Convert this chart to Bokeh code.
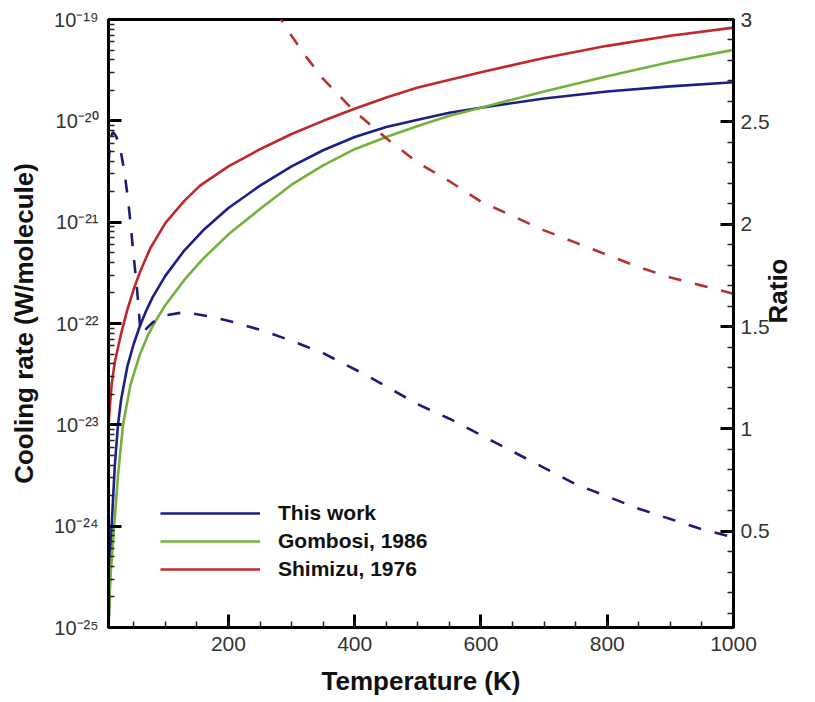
import math
from bokeh.plotting import figure
from bokeh.models import (Range1d, LinearAxis, LinearScale, FixedTicker, Legend, LegendItem,
                          CustomJSTickFormatter)
from bokeh.embed import file_html
from bokeh.resources import INLINE

# ---- data ----
# Cooling rate, log10(W/molecule)
t_this = [10, 12, 15, 20, 25, 30, 40, 50, 60, 70, 80, 100, 130, 160, 200, 250, 300, 350, 400,
          450, 500, 550, 600, 700, 800, 900, 1000]
lg_this = [-25.0, -24.6, -24.0, -23.4, -23.0, -22.75, -22.42, -22.2, -22.02, -21.87, -21.74,
           -21.53, -21.28, -21.08, -20.86, -20.64, -20.45, -20.29, -20.16, -20.06, -19.99,
           -19.92, -19.87, -19.78, -19.71, -19.66, -19.62]

t_gomb = [10, 13, 19, 25, 33, 45, 60, 72, 85, 100, 130, 160, 200, 250, 300, 350, 400, 450,
          500, 550, 600, 700, 800, 900, 1000]
lg_gomb = [-25.0, -24.5, -24.0, -23.5, -23.0, -22.6, -22.3, -22.12, -21.97, -21.82, -21.57,
           -21.36, -21.12, -20.87, -20.63, -20.44, -20.28, -20.16, -20.05, -19.95, -19.87,
           -19.71, -19.56, -19.42, -19.30]

t_shim = [10, 15, 20, 25, 30, 40, 50, 60, 76, 100, 130, 155, 200, 250, 300, 350, 400, 450,
          500, 600, 700, 800, 900, 1000]
lg_shim = [-23.0, -22.6, -22.38, -22.24, -22.1, -21.86, -21.66, -21.49, -21.26, -21.01, -20.79,
           -20.64, -20.45, -20.28, -20.13, -20.0, -19.88, -19.77, -19.67, -19.52, -19.38,
           -19.26, -19.16, -19.08]

# Ratio curves (right axis)
t_ratio_blue = [10, 13, 17, 22, 28, 35, 41, 45, 49, 55, 60, 64, 70, 80, 100, 130, 170, 210,
                260, 300, 350, 420, 500, 550, 600, 650, 700, 750, 800, 850, 900, 950, 1000]
ratio_blue = [2.30, 2.42, 2.45, 2.43, 2.38, 2.26, 2.12, 2.0, 1.87, 1.69, 1.50, 1.46, 1.49, 1.52,
              1.555, 1.57, 1.55, 1.52, 1.475, 1.43, 1.37, 1.26, 1.12, 1.05, 0.97, 0.89, 0.81,
              0.73, 0.67, 0.61, 0.56, 0.51, 0.47]

t_ratio_red = [275, 300, 325, 350, 400, 450, 500, 550, 600, 650, 700, 750, 800, 850, 900, 950, 1000]
ratio_red = [3.04, 2.92, 2.81, 2.71, 2.55, 2.42, 2.30, 2.21, 2.11, 2.04, 1.97, 1.91, 1.85, 1.79,
             1.74, 1.70, 1.66]

x_ticks = [200, 400, 600, 800, 1000]
y_exponents = [-25, -24, -23, -22, -21, -20, -19]
ratio_ticks = [0.5, 1, 1.5, 2, 2.5, 3]
legend_labels = ["This work", "Gombosi, 1986", "Shimizu, 1976"]

BLUE = "#1b1f86"
GREEN = "#72b23c"
RED = "#c0282e"
BLUE_D = "#1a1d78"
RED_D = "#b9302f"
FONT = "Liberation Sans"

p = figure(width=815, height=701, output_backend="svg", toolbar_location=None,
           x_range=Range1d(10, 1000), y_range=Range1d(1e-25, 1e-19), y_axis_type="log",
           min_border_left=108, min_border_right=82, min_border_top=19, min_border_bottom=74)
p.extra_y_ranges = {"ratio": Range1d(0.03, 3.0)}
p.extra_y_scales = {"ratio": LinearScale()}

p.grid.visible = False
p.outline_line_color = "black"
p.outline_line_width = 3
p.background_fill_color = "white"
p.border_fill_color = "white"

# x axis
xa = p.xaxis[0]
xa.ticker = FixedTicker(ticks=x_ticks, minor_ticks=list(range(50, 1001, 50)))
xa.axis_label = "Temperature (K)"
xa.axis_label_text_font = FONT
xa.axis_label_text_font_style = "bold"
xa.axis_label_text_font_size = "26px"
xa.axis_label_text_color = "#111111"
xa.axis_label_standoff = 12
xa.major_label_text_font = FONT
xa.major_label_text_font_size = "21px"
xa.major_label_text_color = "#333333"
xa.major_label_standoff = 9

# left (log) axis, labels 10^k with superscript exponents
SUP = {"-": "\u207b", "0": "\u2070", "1": "\u00b9", "2": "\u00b2", "3": "\u00b3",
       "4": "\u2074", "5": "\u2075", "6": "\u2076", "7": "\u2077", "8": "\u2078", "9": "\u2079"}
ya = p.yaxis[0]
minor_log = [m * 10.0 ** k for k in range(-25, -19) for m in range(2, 10)]
ya.ticker = FixedTicker(ticks=[10.0 ** k for k in y_exponents], minor_ticks=minor_log)
ya.major_label_overrides = {10.0 ** k: "10" + "".join(SUP[c] for c in str(k)) for k in y_exponents}
ya.major_label_text_font = FONT
ya.major_label_text_font_size = "20px"
ya.major_label_text_color = "#333333"
ya.major_label_standoff = 10
ya.axis_label = "Cooling rate (W/molecule)"
ya.axis_label_text_font = FONT
ya.axis_label_text_font_style = "bold"
ya.axis_label_text_font_size = "26px"
ya.axis_label_text_color = "#111111"
ya.axis_label_standoff = 12

# right axis
ra = LinearAxis(y_range_name="ratio")
ra.ticker = FixedTicker(ticks=ratio_ticks, minor_ticks=[round(0.1 * i, 1) for i in range(1, 31)])
ra.formatter = CustomJSTickFormatter(code="return tick.toFixed(1).replace(/\\.0$/, '')")
ra.major_label_text_font = FONT
ra.major_label_text_font_size = "21px"
ra.major_label_text_color = "#333333"
ra.major_label_standoff = 7
ra.axis_label = "Ratio"
ra.axis_label_orientation = math.pi / 2
ra.axis_label_text_font = FONT
ra.axis_label_text_font_style = "bold"
ra.axis_label_text_font_size = "26px"
ra.axis_label_text_color = "#111111"
ra.axis_label_standoff = 5
p.add_layout(ra, "right")

for ax in (xa, ya, ra):
    ax.axis_line_width = 3
    ax.axis_line_color = "black"
    ax.major_tick_in = 13
    ax.major_tick_out = 0
    ax.minor_tick_in = 6
    ax.minor_tick_out = 0
    ax.major_tick_line_width = 3
    ax.minor_tick_line_width = 1.5
    ax.major_tick_line_color = "black"
    ax.minor_tick_line_color = "#222222"

# curves
r_this = p.line(t_this, [10.0 ** v for v in lg_this], line_color=BLUE, line_width=2.6)
r_gomb = p.line(t_gomb, [10.0 ** v for v in lg_gomb], line_color=GREEN, line_width=2.6)
r_shim = p.line(t_shim, [10.0 ** v for v in lg_shim], line_color=RED, line_width=2.6)
p.line(t_ratio_red, ratio_red, y_range_name="ratio", line_color=RED_D, line_width=2.6,
       line_dash="13 14")
p.line(t_ratio_blue, ratio_blue, y_range_name="ratio", line_color=BLUE_D, line_width=2.6,
       line_dash="13 14")

legend = Legend(items=[LegendItem(label=legend_labels[0], renderers=[r_this]),
                       LegendItem(label=legend_labels[1], renderers=[r_gomb]),
                       LegendItem(label=legend_labels[2], renderers=[r_shim])],
                location=(52, 46), glyph_width=100, glyph_height=20, spacing=4,
                label_standoff=18, padding=0, margin=0,
                label_text_font=FONT, label_text_font_style="bold",
                label_text_font_size="21px", label_text_color="#111111",
                border_line_alpha=0, background_fill_alpha=0)
p.add_layout(legend)

open("out.html", "w").write(file_html(p, INLINE))
